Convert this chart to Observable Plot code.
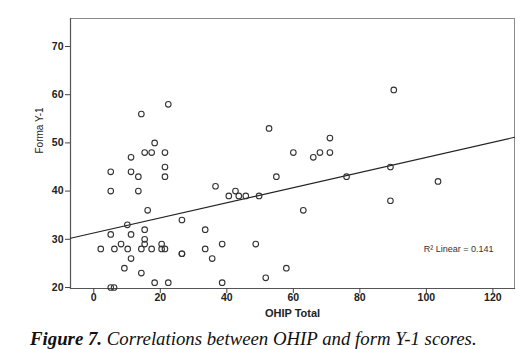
<!DOCTYPE html>
<html>
<head>
<meta charset="utf-8">
<script src="https://cdn.jsdelivr.net/npm/d3@7"></script>
<script src="https://cdn.jsdelivr.net/npm/@observablehq/plot@0.6"></script>
<style>
  html, body { margin: 0; padding: 0; background: #fff; }
  #chart svg { display: block; }
  #caption { font-family: "Liberation Serif", "Times New Roman", serif; font-style: italic; font-size: 18.8px; color: #111; padding-left: 30px; margin-top: 4px; line-height: 20px; white-space: nowrap; }
  #caption b { font-weight: bold; }
</style>
</head>
<body>
<div id="chart"></div>
<div id="caption"><b>Figure 7.</b> Correlations between OHIP and form Y-1 scores.</div>
<script>
// OHIP Total (x) and Forma Y-1 (y) values
const ohip = [22.4, 14.3, 18.3, 15.3, 17.4, 21.4, 11.2, 21.4, 5.1, 11.2, 13.4, 21.4, 5.1, 13.4,
  16.2, 10.1, 26.5, 5.1, 11.2, 15.3, 15.3, 15.3, 8.2, 20.4, 2.1, 6.2, 10.2, 14.3, 17.4, 20.4, 21.4,
  26.5, 26.5, 11.2, 9.2, 14.3, 18.3, 22.4, 5.1, 6.1,
  36.6, 42.6, 40.6, 43.6, 45.7, 49.7, 33.5, 33.5, 38.6, 48.7, 35.6, 38.6, 51.7,
  52.7, 71.0, 60.0, 68.0, 71.0, 66.0, 54.9, 76.0, 63.0, 57.9, 90.2, 89.2, 89.2, 103.5];
const formaY1 = [58, 56, 50, 48, 48, 48, 47, 45, 44, 44, 43, 43, 40, 40,
  36, 33, 34, 31, 31, 32, 30, 29, 29, 29, 28, 28, 28, 28, 28, 28, 28,
  27, 27, 26, 24, 23, 21, 21, 20, 20,
  41, 40, 39, 39, 39, 39, 32, 28, 29, 29, 26, 21, 22,
  53, 51, 48, 48, 48, 47, 43, 43, 36, 24, 61, 45, 38, 42];
const xTicks = [0, 20, 40, 60, 80, 100, 120];
const yTicks = [20, 30, 40, 50, 60, 70];
const xDomain = [-7, 126.5];
const yDomain = [19.79, 75.81];
const fitIntercept = 31.3;
const fitSlope = 0.157;
const fitLabel = "R\u00B2 Linear = 0.141";
const xLabel = "OHIP Total";
const yLabel = "Forma Y-1";

const points = ohip.map((x, i) => ({x, y: formaY1[i]}));
const fit = xDomain.map(x => ({x, y: fitIntercept + fitSlope * x}));

const sans = "'Liberation Sans', Arial, sans-serif";

const chart = Plot.plot({
  width: 529,
  height: 325,
  marginLeft: 70,
  marginRight: 15,
  marginTop: 18,
  marginBottom: 37,
  style: {fontFamily: sans, background: "#fff", color: "#222"},
  x: {domain: xDomain, ticks: xTicks},
  y: {domain: yDomain, ticks: yTicks},
  marks: [
    Plot.frame({stroke: "#8a8a8a", strokeWidth: 1}),
    Plot.frame({anchor: "left", stroke: "#555", strokeWidth: 1.2}),
    Plot.frame({anchor: "bottom", stroke: "#555", strokeWidth: 1.2}),
    Plot.axisX({ticks: xTicks, tickSize: 5, tickPadding: 0, label: null, fontSize: 10.5, fontWeight: "bold", stroke: "#444", fill: "#222"}),
    Plot.axisY({ticks: yTicks, tickSize: 5, tickPadding: 2, label: null, fontSize: 10.5, fontWeight: "bold", stroke: "#444", fill: "#222"}),
    Plot.text([xLabel], {frameAnchor: "bottom", dy: 25, lineAnchor: "middle", text: d => d, fontSize: 11, fontWeight: "bold", fill: "#222"}),
    Plot.text([yLabel], {frameAnchor: "left", dx: -31, rotate: -90, text: d => d, fontSize: 10, fill: "#222"}),
    Plot.line(fit, {x: "x", y: "y", stroke: "#222", strokeWidth: 1.1}),
    Plot.dot(points, {x: "x", y: "y", r: 2.8, stroke: "#333", strokeWidth: 1.1, fill: "none"}),
    Plot.text([fitLabel], {frameAnchor: "bottom-right", dx: -21, dy: -39, textAnchor: "end", lineAnchor: "middle", text: d => d, fontSize: 9, fill: "#333"})
  ]
});
document.getElementById("chart").appendChild(chart);
</script>
</body>
</html>
